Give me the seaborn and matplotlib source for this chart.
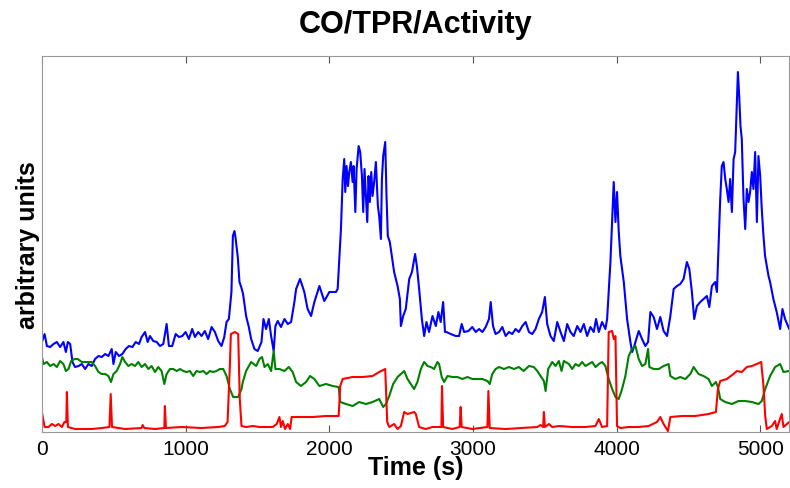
import pandas as pd
import seaborn as sns
import matplotlib.pyplot as plt

# (time in s, value in arbitrary units)
co = [(0, 90), (19, 98), (35, 86), (58, 85), (81, 88), (104, 90), (127, 85), (150, 90), (167, 80),
      (181, 90), (197, 88), (213, 70), (231, 65), (255, 66), (278, 68), (301, 63), (324, 68),
      (347, 66), (370, 73), (394, 76), (417, 75), (440, 78), (463, 76), (486, 83), (498, 68),
      (514, 80), (537, 76), (560, 78), (583, 83), (606, 86), (630, 85), (653, 90), (676, 88),
      (694, 95), (718, 100), (736, 90), (752, 96), (775, 91), (799, 90), (822, 86), (845, 88),
      (868, 108), (884, 86), (907, 86), (931, 98), (954, 95), (977, 96), (1000, 100), (1023, 93),
      (1046, 103), (1065, 95), (1088, 100), (1111, 96), (1134, 101), (1157, 93), (1181, 105),
      (1204, 100), (1227, 91), (1250, 86), (1269, 95), (1285, 110), (1301, 113), (1319, 140),
      (1329, 196), (1340, 201), (1347, 195), (1355, 185), (1363, 175), (1375, 150), (1387, 145),
      (1400, 138), (1421, 116), (1440, 105), (1456, 93), (1479, 83), (1502, 81), (1528, 90),
      (1542, 113), (1560, 103), (1579, 113), (1595, 96), (1613, 81), (1625, 106), (1641, 111),
      (1664, 105), (1688, 113), (1711, 108), (1734, 110), (1757, 130), (1769, 143), (1796, 153),
      (1815, 145), (1826, 140), (1849, 123), (1873, 116), (1896, 130), (1931, 146), (1965, 131),
      (1985, 136), (2000, 140), (2046, 140), (2058, 143), (2081, 203), (2093, 253), (2104, 273),
      (2111, 240), (2120, 266), (2130, 246), (2139, 260), (2150, 270), (2162, 250), (2169, 266),
      (2181, 220), (2190, 263), (2204, 286), (2215, 280), (2227, 256), (2236, 220), (2245, 263),
      (2255, 236), (2264, 210), (2273, 256), (2282, 230), (2292, 260), (2301, 236), (2312, 250),
      (2324, 270), (2338, 226), (2347, 216), (2359, 193), (2366, 253), (2375, 276), (2389, 290),
      (2398, 236), (2407, 196), (2421, 190), (2435, 176), (2451, 160), (2463, 153), (2475, 146),
      (2491, 133), (2498, 106), (2514, 116), (2532, 123), (2556, 153), (2575, 160), (2597, 178),
      (2610, 165), (2625, 143), (2644, 113), (2660, 96), (2676, 110), (2694, 100), (2718, 116),
      (2741, 106), (2759, 120), (2775, 110), (2792, 130), (2805, 100), (2815, 100), (2845, 98),
      (2880, 96), (2903, 96), (2921, 108), (2938, 100), (2968, 101), (2995, 105), (3019, 100),
      (3042, 103), (3065, 100), (3088, 105), (3111, 113), (3123, 130), (3139, 106), (3157, 98),
      (3181, 100), (3204, 105), (3227, 96), (3250, 100), (3273, 98), (3296, 103), (3319, 100),
      (3343, 106), (3366, 110), (3389, 100), (3412, 98), (3435, 103), (3458, 113), (3481, 120),
      (3500, 135), (3516, 108), (3539, 96), (3562, 91), (3586, 110), (3609, 100), (3632, 91),
      (3655, 108), (3678, 100), (3701, 96), (3725, 106), (3748, 100), (3771, 108), (3794, 96),
      (3817, 105), (3840, 100), (3856, 113), (3875, 100), (3898, 110), (3921, 103), (3933, 113),
      (3944, 140), (3956, 170), (3979, 250), (3991, 210), (4002, 240), (4014, 200), (4025, 176),
      (4049, 150), (4072, 113), (4095, 90), (4107, 80), (4120, 85), (4130, 90), (4153, 101),
      (4176, 93), (4199, 86), (4218, 90), (4234, 120), (4257, 115), (4280, 103), (4303, 115),
      (4326, 101), (4350, 96), (4373, 116), (4396, 143), (4419, 146), (4442, 148), (4465, 153),
      (4488, 170), (4505, 163), (4523, 140), (4539, 113), (4558, 126), (4581, 130), (4604, 133),
      (4627, 136), (4644, 125), (4662, 146), (4685, 150), (4697, 140), (4708, 186), (4720, 233),
      (4731, 266), (4743, 270), (4755, 253), (4766, 243), (4778, 230), (4789, 253), (4801, 220),
      (4813, 273), (4824, 280), (4836, 330), (4843, 360), (4852, 336), (4861, 306), (4870, 293),
      (4882, 233), (4894, 203), (4905, 243), (4917, 230), (4928, 240), (4940, 260), (4951, 243),
      (4963, 280), (4975, 210), (4986, 276), (4998, 256), (5009, 223), (5021, 196), (5032, 176),
      (5044, 166), (5056, 156), (5067, 150), (5090, 133), (5113, 120), (5137, 103), (5153, 123),
      (5171, 113), (5200, 103)]

tpr = [(0, 75), (12, 68), (35, 70), (58, 66), (81, 68), (104, 65), (127, 71), (150, 68), (167, 61),
       (185, 63), (204, 71), (227, 73), (250, 73), (278, 70), (301, 70), (324, 70), (347, 70),
       (370, 66), (394, 60), (417, 58), (440, 58), (463, 56), (481, 50), (498, 58), (521, 61),
       (544, 68), (560, 75), (579, 70), (602, 66), (625, 68), (648, 66), (671, 70), (694, 65),
       (718, 68), (741, 63), (764, 66), (787, 60), (810, 65), (833, 61), (852, 48), (868, 58),
       (891, 63), (914, 63), (938, 61), (961, 63), (984, 61), (1007, 60), (1030, 61), (1053, 56),
       (1076, 61), (1100, 60), (1123, 61), (1146, 58), (1169, 61), (1192, 60), (1215, 61),
       (1238, 63), (1262, 63), (1285, 56), (1308, 43), (1331, 35), (1366, 35), (1389, 43),
       (1398, 50), (1421, 61), (1456, 70), (1491, 66), (1514, 73), (1532, 75), (1549, 65),
       (1572, 68), (1595, 61), (1613, 81), (1625, 63), (1653, 63), (1688, 61), (1718, 65),
       (1745, 60), (1769, 50), (1803, 46), (1838, 50), (1866, 56), (1896, 53), (1931, 46),
       (1977, 48), (2023, 46), (2065, 45), (2076, 30), (2116, 28), (2162, 26), (2208, 30),
       (2255, 28), (2301, 30), (2347, 33), (2375, 25), (2394, 28), (2417, 36), (2444, 48),
       (2475, 55), (2498, 58), (2521, 61), (2544, 53), (2567, 48), (2590, 43), (2613, 50),
       (2637, 63), (2660, 70), (2683, 66), (2706, 65), (2729, 63), (2752, 70), (2764, 68),
       (2782, 55), (2799, 50), (2822, 56), (2857, 55), (2891, 55), (2926, 53), (2961, 55),
       (2995, 53), (3030, 53), (3065, 53), (3100, 51), (3116, 48), (3134, 58), (3157, 63),
       (3181, 65), (3215, 63), (3250, 65), (3285, 63), (3319, 65), (3352, 61), (3389, 66),
       (3423, 65), (3447, 61), (3470, 56), (3493, 51), (3505, 41), (3523, 63), (3551, 70),
       (3574, 66), (3597, 71), (3616, 61), (3632, 71), (3667, 68), (3690, 63), (3713, 68),
       (3736, 66), (3759, 70), (3782, 66), (3806, 68), (3829, 70), (3852, 65), (3875, 68),
       (3898, 70), (3921, 66), (3944, 53), (3968, 43), (3991, 35), (4014, 33), (4037, 43),
       (4060, 56), (4083, 76), (4106, 83), (4130, 86), (4153, 73), (4176, 66), (4199, 68),
       (4218, 83), (4227, 65), (4257, 63), (4292, 63), (4326, 66), (4361, 68), (4373, 56),
       (4407, 53), (4442, 55), (4477, 53), (4512, 58), (4535, 65), (4569, 58), (4604, 56),
       (4639, 53), (4662, 46), (4690, 50), (4704, 45), (4720, 33), (4755, 30), (4801, 28),
       (4847, 31), (4894, 31), (4940, 30), (4986, 28), (5009, 31), (5033, 43), (5067, 56),
       (5102, 65), (5137, 68), (5160, 60), (5200, 61)]

activity = [(0, 20), (19, 5), (46, 5), (69, 8), (93, 6), (116, 8), (139, 5), (157, 10), (170, 10),
            (174, 40), (181, 5), (231, 3), (347, 3), (417, 4), (470, 5), (479, 38), (488, 5),
            (579, 3), (694, 4), (701, 7), (713, 4), (787, 3), (852, 4), (856, 26), (863, 4),
            (972, 5), (1111, 4), (1227, 5), (1273, 6), (1292, 10), (1308, 66), (1315, 98),
            (1343, 100), (1366, 98), (1377, 33), (1389, 6), (1421, 5), (1468, 6), (1514, 5),
            (1560, 5), (1606, 5), (1634, 8), (1653, 15), (1664, 5), (1676, 11), (1692, 3),
            (1711, 8), (1727, 3), (1738, 15), (1792, 15), (1884, 15), (1977, 16), (2065, 16),
            (2076, 46), (2093, 53), (2162, 55), (2231, 55), (2301, 56), (2347, 60), (2389, 63),
            (2403, 10), (2417, 5), (2451, 8), (2475, 3), (2498, 6), (2521, 20), (2544, 18),
            (2590, 20), (2602, 18), (2625, 5), (2671, 3), (2718, 5), (2764, 5), (2780, 5),
            (2784, 46), (2792, 5), (2857, 3), (2907, 5), (2914, 25), (2921, 5), (2995, 3),
            (3100, 5), (3107, 41), (3116, 4), (3227, 3), (3343, 4), (3447, 5), (3470, 7),
            (3488, 5), (3493, 20), (3500, 5), (3528, 8), (3551, 5), (3597, 6), (3690, 5),
            (3782, 5), (3852, 6), (3875, 13), (3898, 5), (3933, 6), (3944, 100), (3968, 101),
            (3979, 93), (3991, 96), (4002, 6), (4025, 4), (4083, 5), (4153, 5), (4222, 6),
            (4280, 10), (4303, 15), (4326, 8), (4356, 1), (4373, 15), (4454, 16), (4546, 16),
            (4639, 18), (4690, 20), (4704, 43), (4720, 51), (4766, 53), (4812, 58), (4836, 61),
            (4870, 60), (4905, 65), (4940, 66), (4975, 68), (5005, 70), (5021, 46), (5033, 16),
            (5044, 3), (5079, 6), (5102, 11), (5113, 3), (5148, 18), (5160, 5), (5200, 10)]

series = [("CO", co, "#0000ff"), ("TPR", tpr, "#008000"), ("Activity", activity, "#ff0000")]

sns.set_style("white")
plt.rcParams['font.family'] = ['Liberation Sans', 'DejaVu Sans']
plt.rcParams['text.color'] = 'black'
plt.rcParams['axes.labelcolor'] = 'black'
plt.rcParams['xtick.color'] = 'black'

fig = plt.figure(figsize=(7.9, 4.89), dpi=100)
ax = fig.add_axes([0.053, 0.1145, 0.946, 0.7689])

for name, pts, c in series:
    df = pd.DataFrame(pts, columns=["time", "value"])
    sns.lineplot(data=df, x="time", y="value", color=c, linewidth=1.5, ax=ax,
                 estimator=None, sort=False)

ax.set_xlim(0, 5200)
ax.set_ylim(0, 376)
ax.set_xticks([0, 1000, 2000, 3000, 4000, 5000])
ax.set_yticks([])
ax.tick_params(axis='x', direction='in', length=5, width=0.8, color='#555555',
               labelcolor='black', labelsize=15, top=True, bottom=True, pad=5)
for s in ax.spines.values():
    s.set_color('#999999')
    s.set_linewidth(0.8)

ax.set_title("CO/TPR/Activity", fontsize=22, fontweight='bold', pad=17, color='black')
ax.set_xlabel("Time (s)", fontsize=18, fontweight='bold', labelpad=-2)
ax.set_ylabel("arbitrary units", fontsize=18, fontweight='bold', labelpad=1)

fig.savefig("out.png", dpi=100)
